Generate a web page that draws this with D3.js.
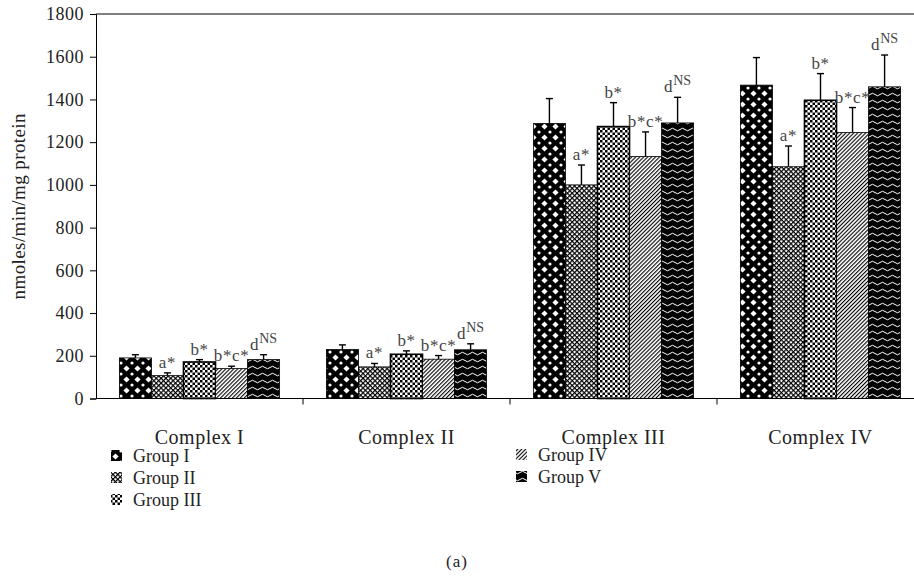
<!DOCTYPE html>
<html>
<head>
<meta charset="utf-8">
<script src="https://cdn.jsdelivr.net/npm/d3@7"></script>
<style>
  html, body { margin: 0; padding: 0; background: #fff; }
  svg { display: block; }
  text { font-family: "Liberation Serif", "DejaVu Serif", serif; }
</style>
</head>
<body>
<svg id="chart" width="914" height="585"></svg>
<script>
// ---- data ----
const categories = ["Complex I", "Complex II", "Complex III", "Complex IV"];
const groups = ["Group I", "Group II", "Group III", "Group IV", "Group V"];

const groupIValues   = [190, 229, 1287, 1467];
const groupIIValues  = [107, 148, 1000, 1085];
const groupIIIValues = [171, 207, 1273, 1396];
const groupIVValues  = [140, 184, 1133, 1245];
const groupVValues   = [182, 228, 1290, 1459];

const groupIErrors   = [15, 22, 117, 129];
const groupIIErrors  = [13, 16, 93, 97];
const groupIIIErrors = [11, 16, 112, 125];
const groupIVErrors  = [11, 17, 115, 117];
const groupVErrors   = [23, 28, 120, 149];

const annotationBase = ["", "a*", "b*", "b*c*", "d"];
const annotationSup  = ["", "", "", "", "NS"];

const yTicks = [0, 200, 400, 600, 800, 1000, 1200, 1400, 1600, 1800];
const yTitle = "nmoles/min/mg protein";
const panelLabel = "(a)";

const allValues = [groupIValues, groupIIValues, groupIIIValues, groupIVValues, groupVValues];
const allErrors = [groupIErrors, groupIIErrors, groupIIIErrors, groupIVErrors, groupVErrors];

// ---- layout ----
const svg = d3.select("#chart");
const plotLeft = 96, plotTop = 14, plotBottom = 398.5, bandW = 207;

const x0 = d3.scaleBand().domain(categories).range([plotLeft, plotLeft + bandW * categories.length]).paddingInner(0).paddingOuter(0);
const x1 = d3.scaleBand().domain(groups).range([0, x0.bandwidth()]).paddingInner(0).paddingOuter(0.73);
const y = d3.scaleLinear().domain([0, 1800]).range([plotBottom, plotTop]);

// ---- patterns ----
const defs = svg.append("defs");
function pat(id, w, h, transform) {
  const p = defs.append("pattern").attr("id", id).attr("patternUnits", "userSpaceOnUse")
    .attr("width", w).attr("height", h);
  if (transform) p.attr("patternTransform", transform);
  return p;
}
// Group I: black with white diamonds and dots
{
  const p = pat("p1", 11, 11);
  p.append("rect").attr("width", 11).attr("height", 11).attr("fill", "#000");
  p.append("path").attr("d", "M5.5,2.4 L8.6,5.5 L5.5,8.6 L2.4,5.5 Z").attr("fill", "#fff");
  [[0,0],[11,0],[0,11],[11,11]].forEach(([cx, cy]) =>
    p.append("circle").attr("cx", cx).attr("cy", cy).attr("r", 1.6).attr("fill", "#fff"));
}
// Group II: fine diagonal cross-hatch
{
  const p = pat("p2", 3.4, 3.4, "rotate(45)");
  p.append("rect").attr("width", 3.4).attr("height", 3.4).attr("fill", "#fff");
  p.append("rect").attr("width", 3.4).attr("height", 1.2).attr("fill", "#000");
  p.append("rect").attr("width", 1.2).attr("height", 3.4).attr("fill", "#000");
}
// Group III: checkerboard
{
  const p = pat("p3", 5, 5);
  p.append("rect").attr("width", 5).attr("height", 5).attr("fill", "#fff");
  p.append("rect").attr("width", 2.5).attr("height", 2.5).attr("fill", "#000");
  p.append("rect").attr("x", 2.5).attr("y", 2.5).attr("width", 2.5).attr("height", 2.5).attr("fill", "#000");
}
// Group IV: dense diagonal hatch
{
  const p = pat("p4", 2.8, 2.8, "rotate(-45)");
  p.append("rect").attr("width", 2.8).attr("height", 2.8).attr("fill", "#fff");
  p.append("rect").attr("width", 2.8).attr("height", 1.1).attr("fill", "#000");
}
// Group V: black with white waves
{
  const p = pat("p5", 10, 7);
  p.append("rect").attr("width", 10).attr("height", 7).attr("fill", "#000");
  p.append("path").attr("d", "M0,3.5 Q2.5,1 5,3.5 T10,3.5").attr("fill", "none")
    .attr("stroke", "#fff").attr("stroke-width", 1);
}
const fills = ["url(#p1)", "url(#p2)", "url(#p3)", "url(#p4)", "url(#p5)"];

// ---- frame ----
svg.append("line").attr("x1", plotLeft).attr("x2", 914).attr("y1", plotTop).attr("y2", plotTop)
  .attr("stroke", "#000").attr("stroke-width", 1);

// ---- bars ----
const barData = [];
categories.forEach((c, ci) => groups.forEach((g, gi) => {
  barData.push({ c, g, gi, v: allValues[gi][ci], e: allErrors[gi][ci] });
}));

const barG = svg.append("g");
barG.selectAll("rect").data(barData).join("rect")
  .attr("x", d => x0(d.c) + x1(d.g))
  .attr("y", d => y(d.v))
  .attr("width", x1.bandwidth())
  .attr("height", d => y(0) - y(d.v))
  .attr("fill", d => fills[d.gi])
  .attr("stroke", "#000")
  .attr("stroke-width", d => d.gi === 2 ? 1.6 : 0.8);

// error bars (upper only)
const errG = svg.append("g").attr("stroke", "#000").attr("stroke-width", 1.4);
barData.forEach(d => {
  const cx = x0(d.c) + x1(d.g) + x1.bandwidth() / 2;
  errG.append("line").attr("x1", cx).attr("x2", cx).attr("y1", y(d.v)).attr("y2", y(d.v + d.e));
  errG.append("line").attr("x1", cx - 3.5).attr("x2", cx + 3.5).attr("y1", y(d.v + d.e)).attr("y2", y(d.v + d.e));
});

// annotations
const annG = svg.append("g").attr("fill", "#444");
barData.forEach(d => {
  if (!annotationBase[d.gi]) return;
  const cx = x0(d.c) + x1(d.g) + x1.bandwidth() / 2;
  const t = annG.append("text").attr("x", cx).attr("y", y(d.v + d.e) - 5)
    .attr("text-anchor", "middle").attr("font-size", 17).attr("letter-spacing", 0.6);
  t.append("tspan").text(annotationBase[d.gi]);
  if (annotationSup[d.gi]) {
    t.append("tspan").attr("dy", -7).attr("font-size", 14).attr("letter-spacing", 0).text(annotationSup[d.gi]);
  }
});

// ---- axes ----
const yAxis = d3.axisLeft(y).tickValues(yTicks).tickSize(6).tickPadding(6).tickFormat(d3.format("d"));
const yg = svg.append("g").attr("transform", `translate(${plotLeft},0)`).call(yAxis);
yg.select(".domain").attr("stroke", "#000");
yg.selectAll(".tick line").attr("stroke", "#000");
yg.selectAll(".tick text").attr("font-size", 18).attr("letter-spacing", 0.5).attr("fill", "#222")
  .attr("font-family", "Liberation Serif, serif");

const xg = svg.append("g").attr("transform", `translate(0,${plotBottom})`);
xg.append("line").attr("x1", plotLeft).attr("x2", 914).attr("stroke", "#000");
xg.selectAll("line.tk").data(categories.slice(1)).join("line").attr("class", "tk")
  .attr("x1", d => x0(d)).attr("x2", d => x0(d)).attr("y1", 0).attr("y2", 6).attr("stroke", "#000");
xg.selectAll("text").data(categories).join("text")
  .attr("x", d => x0(d) + x0.bandwidth() / 2).attr("y", 45)
  .attr("text-anchor", "middle").attr("font-size", 20).attr("letter-spacing", 0.5)
  .attr("fill", "#222").text(d => d);

svg.append("text").attr("transform", `translate(25,${(plotTop + plotBottom) / 2}) rotate(-90)`)
  .attr("text-anchor", "middle").attr("font-size", 19).attr("letter-spacing", 0.4)
  .attr("fill", "#222").text(yTitle);

// ---- legend ----
const legendPos = [[111, 456], [111, 478], [111, 500], [516, 455], [516, 477]];
const lg = svg.append("g");
groups.forEach((g, i) => {
  const [lx, ly] = legendPos[i];
  lg.append("rect").attr("x", lx).attr("y", ly - 6).attr("width", 11).attr("height", 11).attr("fill", fills[i]);
  lg.append("text").attr("x", lx + 22).attr("y", ly + 6).attr("font-size", 18).attr("fill", "#222").text(g);
});

svg.append("text").attr("x", 457).attr("y", 567).attr("text-anchor", "middle")
  .attr("font-size", 17).attr("letter-spacing", 1).attr("fill", "#222").text(panelLabel);
</script>
</body>
</html>
